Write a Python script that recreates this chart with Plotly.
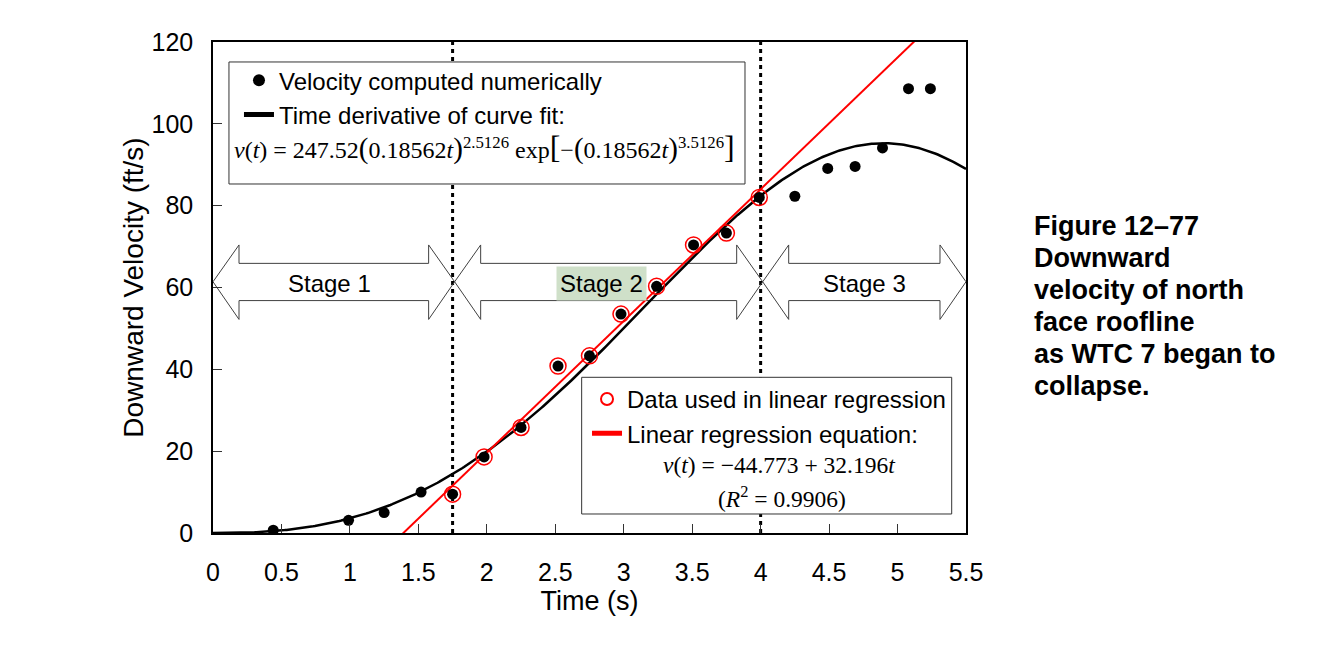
import numpy as np
import plotly.graph_objects as go

# ---- data ----
t_all = [0.44, 0.99, 1.25, 1.52, 1.75, 1.98, 2.25, 2.52, 2.75, 2.98, 3.24, 3.51, 3.75, 3.99,
         4.25, 4.49, 4.69, 4.89, 5.08, 5.24]
v_all = [0.7, 3.1, 5.0, 10.0, 9.5, 18.6, 25.8, 40.8, 43.3, 53.5, 60.3, 70.4, 73.3, 82.0,
         82.3, 89.1, 89.6, 94.1, 108.6, 108.6]
t_reg = [1.75, 1.98, 2.25, 2.52, 2.75, 2.98, 3.24, 3.51, 3.75, 3.99]
v_reg = [9.5, 18.6, 25.8, 40.8, 43.3, 53.5, 60.3, 70.4, 73.3, 82.0]

# curve-fit parameters printed on the chart
fit_A, fit_k, fit_n = 247.52, 0.18562, 2.5126
# linear regression parameters printed on the chart
reg_a, reg_b = -44.773, 32.196

stage_names = ["Stage 1", "Stage 2", "Stage 3"]
stage_bounds = [1.75, 4.0]
x_ticks = [0, 0.5, 1, 1.5, 2, 2.5, 3, 3.5, 4, 4.5, 5, 5.5]
x_tick_text = ["0", "0.5", "1", "1.5", "2", "2.5", "3", "3.5", "4", "4.5", "5", "5.5"]
y_ticks = [0, 20, 40, 60, 80, 100, 120]
caption_lines = ["Figure 12–77", "Downward", "velocity of north", "face roofline",
                 "as WTC 7 began to", "collapse."]

SANS = "Liberation Sans, Arial, sans-serif"
SERIF = "Liberation Serif, Times New Roman, serif"

t_fit = np.linspace(0, 5.5, 400)
u = fit_k * t_fit
v_fit = fit_A * u ** fit_n * np.exp(-(u ** (fit_n + 1)))

t_line = np.array([1.3, 5.2])
v_line = reg_a + reg_b * t_line

fig = go.Figure()
fig.add_trace(go.Scatter(x=t_fit, y=v_fit, mode="lines", name="Time derivative of curve fit:",
                         line=dict(color="black", width=2.5), legend="legend", legendrank=2))
fig.add_trace(go.Scatter(x=t_line, y=v_line, mode="lines", name="Linear regression equation:",
                         line=dict(color="#ff0000", width=2), legend="legend2", legendrank=2))
fig.add_trace(go.Scatter(x=t_reg, y=v_reg, mode="markers", name="Data used in linear regression",
                         marker=dict(symbol="circle-open", size=16, color="#ff0000",
                                     line=dict(width=1.5, color="#ff0000")),
                         legend="legend2", legendrank=1))
fig.add_trace(go.Scatter(x=t_all, y=v_all, mode="markers", name="Velocity computed numerically",
                         marker=dict(symbol="circle", size=11, color="black"),
                         legend="legend", legendrank=1))

shapes = []
# dotted stage boundaries
for xb in stage_bounds:
    shapes.append(dict(type="line", xref="x", yref="y", x0=xb, x1=xb, y0=0, y1=120,
                       line=dict(color="black", width=3, dash="4px,4px"), layer="below"))

# double-headed block arrows
arrow_specs = [(0.0, 1.765), (1.765, 4.015), (4.015, 5.5)]
head = 0.19
y_tip, y_b0, y_b1, y_h0, y_h1 = 61.4, 56.8, 65.9, 52.2, 70.4
for (xl, xr) in arrow_specs:
    p = (f"M{xl},{y_tip} L{xl+head},{y_h1} L{xl+head},{y_b1} L{xr-head},{y_b1} "
         f"L{xr-head},{y_h1} L{xr},{y_tip} L{xr-head},{y_h0} L{xr-head},{y_b0} "
         f"L{xl+head},{y_b0} L{xl+head},{y_h0} Z")
    shapes.append(dict(type="path", xref="x", yref="y", path=p,
                       line=dict(color="#404040", width=1), layer="below"))

# legend boxes
shapes.append(dict(type="rect", xref="paper", yref="paper", x0=0.0212, x1=0.7065, y0=0.7108, y1=0.9593,
                   line=dict(color="#333333", width=1), fillcolor="white", layer="above"))
shapes.append(dict(type="rect", xref="paper", yref="paper", x0=0.4896, x1=0.981, y0=0.0387, y1=0.3171,
                   line=dict(color="#333333", width=1), fillcolor="white", layer="above"))

annotations = []
stage_x = [0.853, 2.84, 4.76]
for name, sx in zip(stage_names, stage_x):
    ann = dict(x=sx, y=61.0, xref="x", yref="y", text=name, showarrow=False,
               font=dict(family=SANS, size=24, color="black"))
    if name == "Stage 2":
        ann.update(bgcolor="#cfe0c9", borderpad=3)
    annotations.append(ann)

BIGP = '<span style="font-size:29px">{}</span>'
BIGB = '<span style="font-size:32px">{}</span>'
eq1 = ("<i>v</i>(<i>t</i>) = 247.52" + BIGP.format("(") + "0.18562<i>t</i>" + BIGP.format(")")
       + "<sup>2.5126</sup> exp" + BIGB.format("[") + "−" + BIGP.format("(") + "0.18562<i>t</i>"
       + BIGP.format(")") + "<sup>3.5126</sup>" + BIGB.format("]"))
annotations.append(dict(
    x=0.0252, y=0.786, xref="paper", yref="paper", xanchor="left", yanchor="middle",
    text=eq1, showarrow=False, font=dict(family=SERIF, size=24, color="black")))
annotations.append(dict(
    x=0.752, y=0.1385, xref="paper", yref="paper", xanchor="center", yanchor="middle",
    text="<i>v</i>(<i>t</i>) = −44.773 + 32.196<i>t</i>",
    showarrow=False, font=dict(family=SERIF, size=23.5, color="black")))
annotations.append(dict(
    x=0.7556, y=0.0733, xref="paper", yref="paper", xanchor="center", yanchor="middle",
    text="(<i>R</i><sup>2</sup> = 0.9906)",
    showarrow=False, font=dict(family=SERIF, size=23.5, color="black")))

# caption at the right, one line per annotation (32 px line pitch)
cap_y0 = 226.0
for i, line in enumerate(caption_lines):
    ypx = cap_y0 + 32 * i
    annotations.append(dict(
        x=1.0876, y=(533 - ypx) / 491, xref="paper", yref="paper", xanchor="left", yanchor="middle",
        align="left", text="<b>" + line + "</b>", showarrow=False,
        font=dict(family=SANS, size=27, color="black")))

axis_common = dict(showgrid=False, zeroline=False, showline=True, linecolor="black", linewidth=1.5,
                   mirror=True, ticks="inside", ticklen=9, tickwidth=1, tickcolor="#333333",
                   tickfont=dict(family=SANS, size=25, color="black"))

fig.update_layout(
    width=1310, height=659,
    margin=dict(l=205, r=352, t=34, b=134, autoexpand=False),
    paper_bgcolor="white", plot_bgcolor="white",
    xaxis=dict(range=[0, 5.5], tickvals=x_ticks, ticktext=x_tick_text, ticklabelstandoff=16,
               title=dict(text="Time (s)", font=dict(family=SANS, size=27, color="black"), standoff=6),
               automargin=False, **axis_common),
    yaxis=dict(range=[0, 120], tickvals=y_ticks, ticklabelstandoff=13,
               title=dict(text="Downward Velocity (ft/s)", font=dict(family=SANS, size=28, color="black"),
                          standoff=0),
               automargin=False, **axis_common),
    legend=dict(x=0.0345, y=0.967, xanchor="left", yanchor="top", bgcolor="rgba(0,0,0,0)",
                font=dict(family=SANS, size=24, color="black"), itemsizing="constant",
                traceorder="normal", tracegroupgap=0),
    legend2=dict(x=0.4967, y=0.318, xanchor="left", yanchor="top", bgcolor="rgba(0,0,0,0)",
                 font=dict(family=SANS, size=24, color="black"), itemsizing="constant",
                 traceorder="normal", tracegroupgap=0),
    shapes=shapes,
    annotations=annotations,
)

fig.write_html("out.html")
